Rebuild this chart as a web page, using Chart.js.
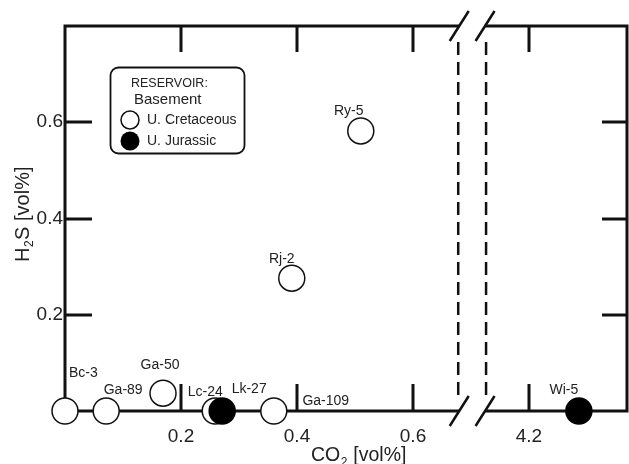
<!DOCTYPE html>
<html>
<head>
<meta charset="utf-8">
<script src="https://cdn.jsdelivr.net/npm/chart.js@4.4.1/dist/chart.umd.min.js"></script>
<style>
  html, body { margin: 0; padding: 0; background: #fff; }
  #wrap { width: 629px; height: 464px; position: relative; }
</style>
</head>
<body>
<div id="wrap"><canvas id="c" width="629" height="464"></canvas></div>
<script>
// Wells by reservoir: CO2 and H2S contents in vol%
const cretaceousWells = ['Bc-3', 'Ga-89', 'Ga-50', 'Lc-24', 'Ga-109', 'Rj-2', 'Ry-5'];
const cretaceousCO2   = [0.000, 0.071, 0.169, 0.259, 0.360, 0.391, 0.510];
const cretaceousH2S   = [0.000, 0.000, 0.037, 0.000, 0.000, 0.276, 0.582];

const jurassicWells = ['Lk-27', 'Wi-5'];
const jurassicCO2   = [0.271, 4.286];
const jurassicH2S   = [0.000, 0.000];

const xTickValues = [0.2, 0.4, 0.6, 4.2];
const yTickValues = [0.2, 0.4, 0.6];

// Broken CO2 axis: the gap between the two values below is cut out
const breakStart = 0.678;
const breakEnd = 4.126;
const breakShift = 3.4;
const toAxis = v => (v > 1 ? v - breakShift : v);

const FONT = "'Liberation Sans', Arial, Helvetica, sans-serif";
const INK = '#111';

// Label offsets (px) from each marker centre
const labelOffsets = {
  'Bc-3':   { dx: 4,   dy: -38, align: 'left' },
  'Ga-89':  { dx: 17,  dy: -21, align: 'center' },
  'Ga-50':  { dx: -3,  dy: -28, align: 'center' },
  'Lc-24':  { dx: -10, dy: -19, align: 'center' },
  'Ga-109': { dx: 52,  dy: -10, align: 'center' },
  'Rj-2':   { dx: -10, dy: -19, align: 'center' },
  'Ry-5':   { dx: -12, dy: -20, align: 'center' },
  'Lk-27':  { dx: 27,  dy: -22, align: 'center' },
  'Wi-5':   { dx: -15, dy: -21, align: 'center' }
};

const toPoints = (xs, ys) => xs.map((x, i) => ({ x: toAxis(x), y: ys[i] }));

// Draws "main" + subscript "sub" + "rest" from the current origin
function subscriptText(ctx, main, sub, rest, size) {
  let px = 0;
  ctx.font = `${size}px ${FONT}`;
  ctx.fillText(main, px, 0);
  px += ctx.measureText(main).width;
  ctx.font = `${Math.round(size * 0.6)}px ${FONT}`;
  ctx.fillText(sub, px + 0.5, 4.5);
  px += ctx.measureText(sub).width + 1;
  ctx.font = `${size}px ${FONT}`;
  ctx.fillText(rest, px, 0);
}

// Frame, inward ticks and the axis break
const framePlugin = {
  id: 'frame',
  beforeDatasetsDraw(chart) {
    const { ctx, chartArea: a, scales: { x, y } } = chart;
    const bx1 = x.getPixelForValue(toAxis(breakStart));
    const bx2 = x.getPixelForValue(toAxis(breakEnd));
    ctx.save();
    ctx.strokeStyle = INK;
    ctx.lineCap = 'butt';

    // dashed break lines
    ctx.lineWidth = 2.5;
    ctx.setLineDash([13, 7]);
    [bx1, bx2].forEach(bx => {
      ctx.beginPath();
      ctx.moveTo(bx, a.top + 16);
      ctx.lineTo(bx, a.bottom - 16);
      ctx.stroke();
    });
    ctx.setLineDash([]);

    ctx.lineWidth = 3;
    // left and right axes
    ctx.beginPath();
    ctx.moveTo(a.left, a.top - 1.5); ctx.lineTo(a.left, a.bottom + 1.5);
    ctx.moveTo(a.right, a.top - 1.5); ctx.lineTo(a.right, a.bottom + 1.5);
    // top and bottom axes, interrupted at the break
    [a.top, a.bottom].forEach(yy => {
      ctx.moveTo(a.left, yy); ctx.lineTo(bx1 + 1, yy);
      ctx.moveTo(bx2 - 1, yy); ctx.lineTo(a.right, yy);
    });
    ctx.stroke();

    // break slashes
    ctx.lineWidth = 2.5;
    ctx.beginPath();
    [a.top, a.bottom].forEach(yy => {
      [bx1 + 1, bx2 - 1].forEach(bx => {
        ctx.moveTo(bx - 9.5, yy + 15);
        ctx.lineTo(bx + 9.5, yy - 15);
      });
    });
    ctx.stroke();

    // inward ticks
    ctx.lineWidth = 3;
    ctx.beginPath();
    xTickValues.forEach(v => {
      const px = Math.round(x.getPixelForValue(toAxis(v)));
      ctx.moveTo(px, a.bottom); ctx.lineTo(px, a.bottom - 27);
      ctx.moveTo(px, a.top); ctx.lineTo(px, a.top + 26);
    });
    yTickValues.forEach(v => {
      const py = Math.round(y.getPixelForValue(v));
      ctx.moveTo(a.left, py); ctx.lineTo(a.left + 27, py);
      ctx.moveTo(a.right, py); ctx.lineTo(a.right - 25, py);
    });
    ctx.stroke();
    ctx.restore();
  },
  afterDatasetsDraw(chart) {
    const { ctx } = chart;
    ctx.save();
    ctx.fillStyle = '#222';
    ctx.font = `14px ${FONT}`;
    ctx.textBaseline = 'middle';
    chart.data.datasets.forEach((ds, di) => {
      const meta = chart.getDatasetMeta(di);
      meta.data.forEach((pt, i) => {
        const name = ds.wells[i];
        const o = labelOffsets[name];
        ctx.textAlign = o.align;
        ctx.fillText(name, pt.x + o.dx, pt.y + o.dy);
      });
    });
    ctx.restore();
  },
  afterDraw(chart) {
    const { ctx } = chart;

    // axis titles
    ctx.save();
    ctx.fillStyle = '#222';
    ctx.textAlign = 'left';
    ctx.textBaseline = 'alphabetic';
    ctx.translate(311, 461);
    subscriptText(ctx, 'CO', '2', ' [vol%]', 19.5);
    ctx.restore();

    ctx.save();
    ctx.fillStyle = '#222';
    ctx.textAlign = 'left';
    ctx.textBaseline = 'alphabetic';
    ctx.translate(28.5, 262);
    ctx.rotate(-Math.PI / 2);
    subscriptText(ctx, 'H', '2', 'S [vol%]', 20);
    ctx.restore();

    // reservoir legend
    ctx.save();
    const bx = 110.5, by = 67.5, bw = 134, bh = 86, r = 8;
    ctx.beginPath();
    ctx.roundRect(bx, by, bw, bh, r);
    ctx.fillStyle = '#fff';
    ctx.fill();
    ctx.lineWidth = 1.8;
    ctx.strokeStyle = INK;
    ctx.stroke();

    ctx.fillStyle = '#222';
    ctx.textBaseline = 'middle';
    ctx.textAlign = 'left';
    ctx.font = `12.5px ${FONT}`;
    ctx.fillText('RESERVOIR:', 131, 84);
    ctx.font = `15px ${FONT}`;
    ctx.fillText('Basement', 134, 100);
    ctx.font = `14px ${FONT}`;
    ctx.fillText('U. Cretaceous', 147, 120);
    ctx.fillText('U. Jurassic', 147, 141);

    ctx.lineWidth = 1.5;
    ctx.beginPath();
    ctx.arc(130, 120, 9, 0, Math.PI * 2);
    ctx.fillStyle = '#fff';
    ctx.fill();
    ctx.stroke();
    ctx.beginPath();
    ctx.arc(130, 141, 9.5, 0, Math.PI * 2);
    ctx.fillStyle = '#000';
    ctx.fill();
    ctx.restore();
  }
};

new Chart(document.getElementById('c'), {
  type: 'scatter',
  data: {
    datasets: [
      {
        label: 'U. Jurassic',
        wells: jurassicWells,
        data: toPoints(jurassicCO2, jurassicH2S),
        pointRadius: 13,
        pointBorderWidth: 1.5,
        pointBackgroundColor: '#000',
        pointBorderColor: '#000',
        clip: false,
        order: 0
      },
      {
        label: 'U. Cretaceous',
        wells: cretaceousWells,
        data: toPoints(cretaceousCO2, cretaceousH2S),
        pointRadius: 13,
        pointBorderWidth: 1.5,
        pointBackgroundColor: '#fff',
        pointBorderColor: '#111',
        clip: false,
        order: 1
      }
    ]
  },
  options: {
    responsive: false,
    animation: false,
    events: [],
    layout: { autoPadding: false, padding: { top: 26, right: 2, left: 0, bottom: 0 } },
    plugins: { legend: { display: false }, tooltip: { enabled: false } },
    scales: {
      x: {
        type: 'linear',
        min: 0,
        max: toAxis(4.369),
        grid: { display: false, drawTicks: false, tickLength: 0 },
        border: { display: false },
        afterBuildTicks: s => { s.ticks = xTickValues.map(v => ({ value: toAxis(v) })); },
        afterFit: s => { s.height = 53; s.paddingLeft = 0; s.paddingRight = 0; },
        ticks: {
          padding: 14,
          color: '#222',
          font: { family: FONT, size: 19 },
          maxRotation: 0,
          autoSkip: false,
          callback: (val, idx) => xTickValues[idx].toFixed(1)
        }
      },
      y: {
        type: 'linear',
        min: 0,
        max: 0.8,
        grid: { display: false, drawTicks: false, tickLength: 0 },
        border: { display: false },
        afterBuildTicks: s => { s.ticks = yTickValues.map(v => ({ value: v })); },
        afterFit: s => { s.width = 65; s.paddingTop = 0; s.paddingBottom = 0; },
        ticks: {
          padding: 2,
          color: '#222',
          font: { family: FONT, size: 19 },
          callback: (val, idx) => yTickValues[idx].toFixed(1)
        }
      }
    }
  },
  plugins: [framePlugin]
});
</script>
</body>
</html>
